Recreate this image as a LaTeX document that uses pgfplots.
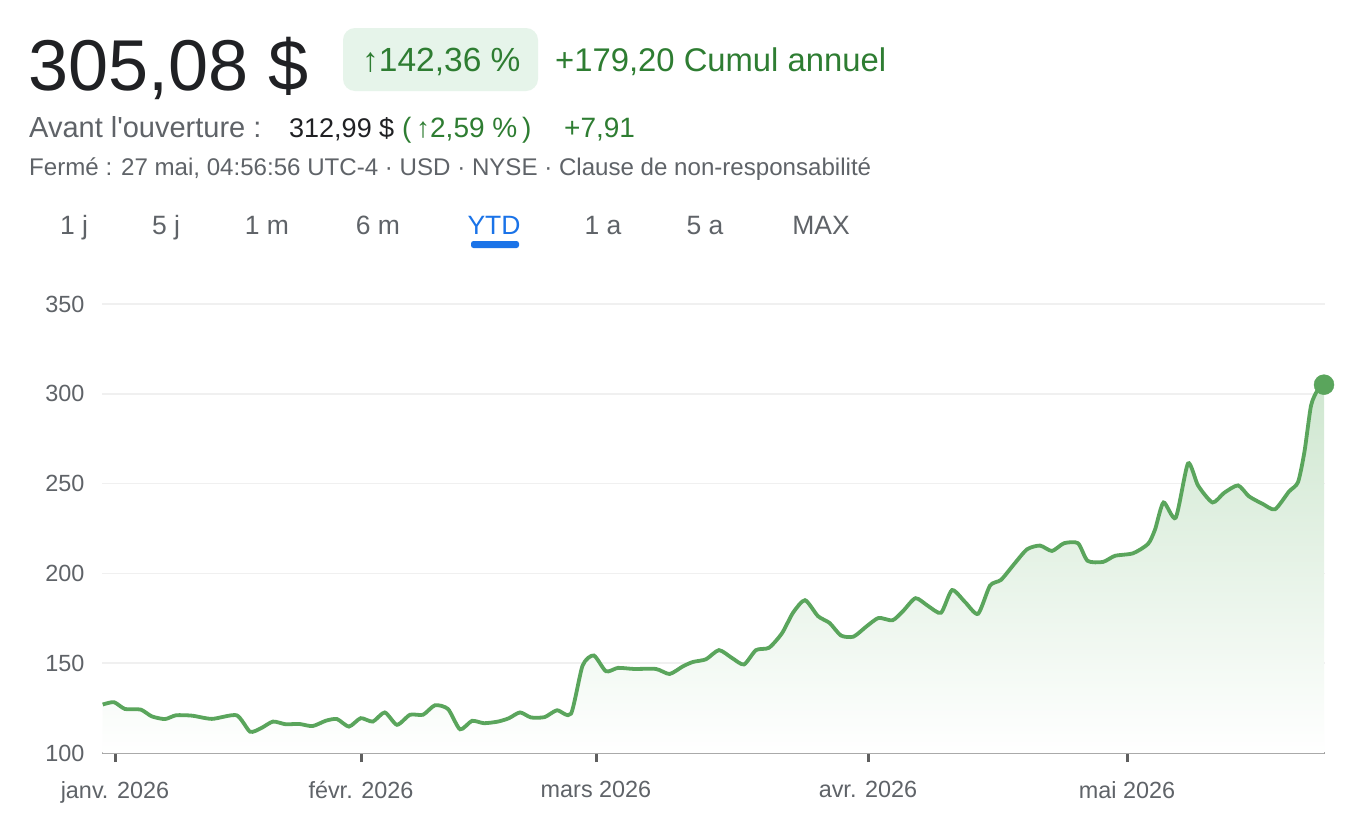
\documentclass[border=0pt]{standalone}
\usepackage{fontspec}
\setmainfont{Liberation Sans}
\usepackage{pgfplots}
\usepackage{pgfplotstable}
\pgfplotsset{compat=1.18}
\definecolor{txt}{HTML}{202124}
\definecolor{sub}{HTML}{5F6368}
\definecolor{gr}{HTML}{2E7D32}
\definecolor{badge}{HTML}{E6F4EA}
\definecolor{lg}{HTML}{5AA55C}
\definecolor{blu}{HTML}{1A73E8}
\definecolor{grd}{HTML}{F0F0F0}
\definecolor{base}{HTML}{9E9E9E}
\definecolor{tk}{HTML}{5F5F5F}
\definecolor{shadetop}{HTML}{CFE7D0}
\definecolor{shademid}{HTML}{EEF6EE}
\newcommand\fs[1]{\fontsize{#1}{#1}\selectfont}

\pgfplotstableread{
x y
102.7 127.0
114 128.3
125 124.5
140.6 124.2
151.8 120.4
165 118.9
176 121.0
192 120.8
212 119.0
236.6 121.0
250 111.9
261 113.8
273 117.5
285.7 116.0
299 116.2
312.5 115.0
326 118.0
337 118.9
349 114.7
360.7 119.4
372.8 117.5
384.8 122.6
397 115.7
410 121.3
423 121.3
435 126.6
448 124.5
460 113.2
472 117.9
484 116.6
498 117.5
509 119.4
520 122.6
531 119.8
544.6 120.0
557 123.8
571 121.9
582.6 148.7
593.8 154.3
606 145.5
618 147.4
634 146.8
656 146.8
669.6 144.0
683 148.3
693 150.7
706 152.2
719 157.3
732 152.9
744 149.3
756 157.3
769 158.6
782 166.7
793 178.1
805 185.1
818 176.2
829.6 172.4
841 165.4
853.5 164.8
866.5 170.5
878.6 175.2
892.5 173.9
903 179.0
915.5 186.2
928 181.9
941 178.1
952 190.7
965 184.1
978 177.5
990 193.2
1001 196.4
1014 205.1
1027 213.4
1040 215.5
1052 212.5
1064 216.8
1078 216.8
1087.6 207.0
1103 206.4
1115 209.8
1133 211.2
1148 216.4
1155 224.4
1163.5 239.5
1175.7 231.0
1188 261.2
1198 249.0
1212.5 239.5
1224 244.8
1238 249.0
1249 242.9
1263 238.6
1275 235.7
1289 245.6
1298 250.8
1304.5 267.9
1311 293.4
1317.5 301.9
1324 305.08
}\data

\begin{document}
\begin{tikzpicture}
\fill[white] (0pt,0pt) rectangle (1360pt,-828pt);
% header
\fill[badge, rounded corners=12pt] (343pt,-28pt) rectangle (538pt,-91pt);
\node[anchor=base west, inner sep=0pt, text=txt] at (28pt,-90pt) {\fs{72}305,08 \$};
\node[anchor=base west, inner sep=0pt, text=gr] at (362pt,-71pt) {\fs{33.5}↑142,36 \%};
\node[anchor=base west, inner sep=0pt, text=gr] at (555pt,-71pt) {\fs{32.8}+179,20 Cumul annuel};
\node[anchor=base west, inner sep=0pt, text=sub] at (29pt,-137pt) {\fs{29}Avant l\textquotesingle ouverture :};
\node[anchor=base west, inner sep=0pt, text=txt] at (289pt,-137pt) {\fs{27}312,99 \$};
\node[anchor=base west, inner sep=0pt, text=gr] at (402pt,-137pt) {\fs{28}(\,↑2,59 \%\,)};
\node[anchor=base west, inner sep=0pt, text=gr] at (564pt,-137pt) {\fs{28}+7,91};
\node[anchor=base west, inner sep=0pt, text=sub] at (29pt,-175pt) {\fs{24.1}Fermé : 27 mai, 04:56:56 UTC-4 · USD · NYSE · Clause de non-responsabilité};
% tabs
\foreach \xx/\tt in {74/1 j,166/5 j,267/1 m,378/6 m,603/1 a,705/5 a,821/MAX}{
  \node[anchor=base, inner sep=0pt, text=sub] at (\xx pt,-234pt) {\fs{26.5}\tt};
}
\node[anchor=base, inner sep=0pt, text=blu] at (494pt,-234pt) {\fs{26.5}YTD};
\fill[blu, rounded corners=2.5pt] (471pt,-241pt) rectangle (519pt,-248pt);
\begin{axis}[
  at={(102pt,-753pt)}, anchor=south west,
  width=1223pt, height=449pt, scale only axis,
  xmin=102, xmax=1325, ymin=100, ymax=350,
  xtick={115,361,596,868,1127},
  xticklabels={janv. 2026, févr. 2026, mars 2026, avr. 2026, mai 2026},
  ytick={100,150,200,250,300,350},
  ymajorgrids, major grid style={grd, line width=1.5pt},
  axis x line*=bottom, axis y line*=left,
  x axis line style={base, line width=2pt, -},
  y axis line style={draw=none},
  tick align=outside, major tick length=9pt,
  xtick style={tk, line width=3pt},
  ytick style={draw=none},
  xticklabel style={font=\fs{23.4}, text=sub, yshift=-16pt},
  yticklabel style={font=\fs{23.4}, text=sub, xshift=-5pt},
  /pgf/number format/assume math mode=true,
  clip=false,
]
\addplot[draw=none, shade, top color=shadetop, middle color=shademid, bottom color=white, smooth, tension=0.4] table {\data} \closedcycle;
\addplot[lg, line width=3.8pt, smooth, tension=0.4] table {\data};
\addplot[only marks, mark=*, mark size=10pt, lg] coordinates {(1324,305.08)};
\end{axis}
\end{tikzpicture}
\end{document}
